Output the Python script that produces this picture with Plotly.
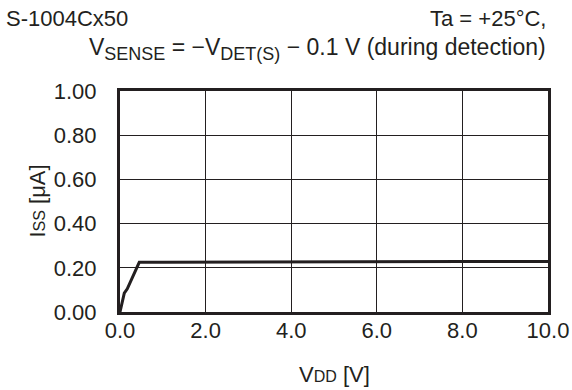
import plotly.graph_objects as go

# Data
vdd = [0.0, 0.1, 0.17, 0.3, 0.45, 1.0, 2.0, 4.0, 6.0, 8.0, 10.0]
iss = [0.0, 0.085, 0.105, 0.16, 0.225, 0.225, 0.225, 0.226, 0.227, 0.228, 0.229]

x_ticks = [0, 2, 4, 6, 8, 10]
x_labels = ["0.0", "2.0", "4.0", "6.0", "8.0", "10.0"]
y_ticks = [0, 0.2, 0.4, 0.6, 0.8, 1.0]
y_labels = ["0.00", "0.20", "0.40", "0.60", "0.80", "1.00"]

font = "Liberation Sans, Arial, sans-serif"
ink = "#231f20"

fig = go.Figure()

fig.add_trace(go.Scatter(
    x=vdd, y=iss,
    mode="lines",
    line=dict(color=ink, width=3),
    showlegend=False,
))

fig.update_layout(
    width=572, height=390,
    margin=dict(l=120, r=24, t=91, b=78, autoexpand=False),
    paper_bgcolor="white",
    plot_bgcolor="white",
    font=dict(family=font, size=22, color=ink),
)

fig.update_xaxes(
    range=[0, 10],
    tickvals=x_ticks, ticktext=x_labels,
    showgrid=True, gridcolor=ink, gridwidth=1,
    showline=True, linecolor=ink, linewidth=3, mirror=True,
    zeroline=False, ticks="", ticklabelstandoff=-3, automargin=False,
)
fig.update_yaxes(
    range=[0, 1.0],
    tickvals=y_ticks, ticktext=y_labels,
    showgrid=True, gridcolor=ink, gridwidth=1,
    showline=True, linecolor=ink, linewidth=3, mirror=True,
    zeroline=False, ticks="", ticklabelstandoff=16, automargin=False,
)

# axis titles (placed as annotations for exact positioning)
fig.add_annotation(text="V<span style='font-size:16px'>DD</span> [V]",
                   xref="paper", yref="paper", x=0.5, y=-62 / 221,
                   xanchor="center", yanchor="middle", showarrow=False)
fig.add_annotation(text="I<span style='font-size:16px'>SS</span> [μA]",
                   xref="paper", yref="paper", x=-83 / 428, y=0.5, textangle=-90,
                   xanchor="center", yanchor="middle", showarrow=False)

fig.add_annotation(text="S-1004Cx50", xref="paper", yref="paper",
                   x=-116 / 428, y=1 + 73 / 221, xanchor="left", yanchor="middle",
                   showarrow=False, font=dict(size=22))
fig.add_annotation(text="Ta = +25°C,", xref="paper", yref="paper",
                   x=1, y=1 + 73 / 221, xanchor="right", yanchor="middle",
                   showarrow=False, font=dict(size=22))
fig.add_annotation(
    text="V<sub><span style='font-size:18px'>SENSE</span></sub> = −V"
         "<sub><span style='font-size:18px'>DET(S)</span></sub> − 0.1 V (during detection)",
    xref="paper", yref="paper",
    x=1, y=1 + 42 / 221, xanchor="right", yanchor="middle",
    showarrow=False, font=dict(size=23))

fig.write_html("out.html", config={"displayModeBar": False},
               post_script="document.body.style.margin='0';")
